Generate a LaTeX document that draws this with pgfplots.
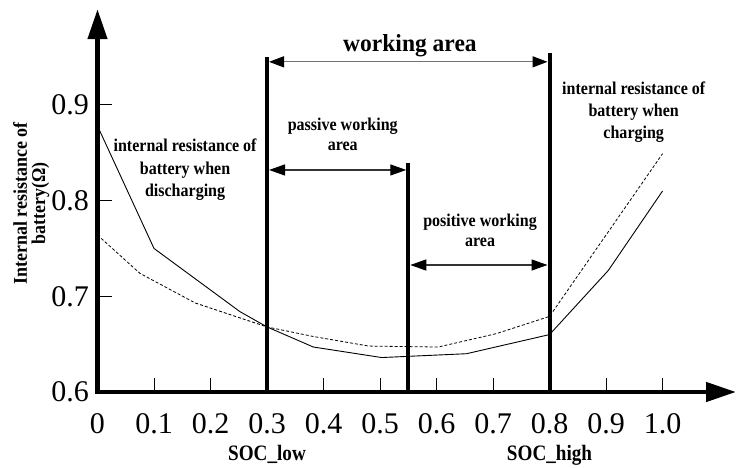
\documentclass[border=0pt]{standalone}
\usepackage{pgfplots}
\pgfplotsset{compat=1.18}
\usetikzlibrary{arrows.meta}
\usepackage{fontspec}
\setmainfont{Liberation Serif}
\newfontfamily\condA[FakeStretch=0.89]{Liberation Serif}
\newfontfamily\condB[FakeStretch=0.92]{Liberation Serif}
\newfontfamily\condC[FakeStretch=0.87]{Liberation Serif}
\newfontfamily\condD[FakeStretch=0.96]{Liberation Serif}
\begin{document}
\begin{tikzpicture}
\useasboundingbox (-97.5bp,-76bp) rectangle (639.5bp,392bp);
\begin{axis}[
  scale only axis,
  width=638.5bp, height=382.8bp,
  xmin=0, xmax=1.13, ymin=0.6, ymax=1.0,
  axis lines=left,
  every outer x axis line/.append style={line width=4.5bp, line cap=rect, -{Triangle[length=30bp,width=19bp]}},
  every outer y axis line/.append style={line width=4.5bp, line cap=rect, -{Triangle[length=30bp,width=19bp]}},
  xtick={0,0.1,0.2,0.3,0.4,0.5,0.6,0.7,0.8,0.9,1.0},
  xticklabels={0,0.1,0.2,0.3,0.4,0.5,0.6,0.7,0.8,0.9,1.0},
  ytick={0.6,0.7,0.8,0.9},
  yticklabels={0.6,0.7,0.8,0.9},
  tick align=inside,
  major tick length=14bp,
  tick style={line width=0.9bp, black},
  tick label style={font=\fontsize{30bp}{30bp}\selectfont},
  xticklabel style={yshift=-18bp},
  yticklabel style={xshift=-5bp},
  clip=false,
]
% discharging (solid)
\addplot[black, line width=0.9bp] coordinates {
 (0,0.878) (0.1,0.75) (0.252,0.684) (0.3,0.668) (0.382,0.647) (0.503,0.636) (0.653,0.640) (0.8,0.660) (0.904,0.727) (1.0,0.810)
};
% charging (dashed)
\addplot[black, line width=0.8bp, dash pattern=on 3bp off 2bp] coordinates {
 (0,0.764) (0.075,0.724) (0.173,0.693) (0.3,0.668) (0.382,0.658) (0.48,0.648) (0.603,0.647) (0.706,0.661) (0.8,0.679) (0.9,0.764) (1.0,0.849)
};
% vertical boundaries
\addplot[black, line width=4bp] coordinates {(0.3,0.6) (0.3,0.950)};
\addplot[black, line width=4bp] coordinates {(0.55,0.6) (0.55,0.839)};
\addplot[black, line width=4bp] coordinates {(0.8,0.6) (0.8,0.954)};
% arrows
\draw[line width=1.3bp, black!55, shorten <=2bp, shorten >=2bp, {Triangle[length=15bp,width=11bp,black]}-{Triangle[length=15bp,width=11bp,black]}] (axis cs:0.3,0.945) -- (axis cs:0.8,0.945);
\draw[line width=1.3bp, black!80, shorten <=2bp, shorten >=2bp, {Triangle[length=16bp,width=11bp,black]}-{Triangle[length=16bp,width=11bp,black]}] (axis cs:0.3,0.832) -- (axis cs:0.55,0.832);
\draw[line width=1.3bp, black!80, shorten <=2bp, shorten >=2bp, {Triangle[length=16bp,width=11bp,black]}-{Triangle[length=16bp,width=11bp,black]}] (axis cs:0.55,0.7327) -- (axis cs:0.8,0.7327);
% texts
\node[anchor=base, inner sep=0pt, font=\condD\fontsize{24.5bp}{24.5bp}\selectfont\bfseries] at (axis cs:0.553,0.9556) {working area};
\begin{scope}[every node/.style={anchor=base, inner sep=0pt, font=\condA\fontsize{18bp}{18bp}\selectfont\bfseries}]
\node at (axis cs:0.434,0.8735) {passive working};
\node at (axis cs:0.434,0.8526) {area};
\node at (axis cs:0.677,0.7733) {positive working};
\node at (axis cs:0.677,0.7524) {area};
\node at (axis cs:0.155,0.8512) {internal resistance of};
\node at (axis cs:0.155,0.8268) {battery when};
\node at (axis cs:0.155,0.8042) {discharging};
\node at (axis cs:0.949,0.9104) {internal resistance of};
\node at (axis cs:0.949,0.8878) {battery when};
\node at (axis cs:0.949,0.8652) {charging};
\end{scope}
\node[anchor=base, inner sep=0pt, font=\condC\fontsize{22bp}{22bp}\selectfont\bfseries] at (axis cs:0.3,0.528) {SOC\_low};
\node[anchor=base, inner sep=0pt, font=\condC\fontsize{22bp}{22bp}\selectfont\bfseries] at (axis cs:0.8,0.528) {SOC\_high};
\node[anchor=base, inner sep=0pt, rotate=90, font=\condB\fontsize{19.5bp}{19.5bp}\selectfont\bfseries] at (axis cs:-0.1248,0.797) {Internal resistance of};
\node[anchor=base, inner sep=0pt, rotate=90, font=\condB\fontsize{19.5bp}{19.5bp}\selectfont\bfseries] at (axis cs:-0.0929,0.797) {battery(Ω)};
\end{axis}
\end{tikzpicture}
\end{document}
